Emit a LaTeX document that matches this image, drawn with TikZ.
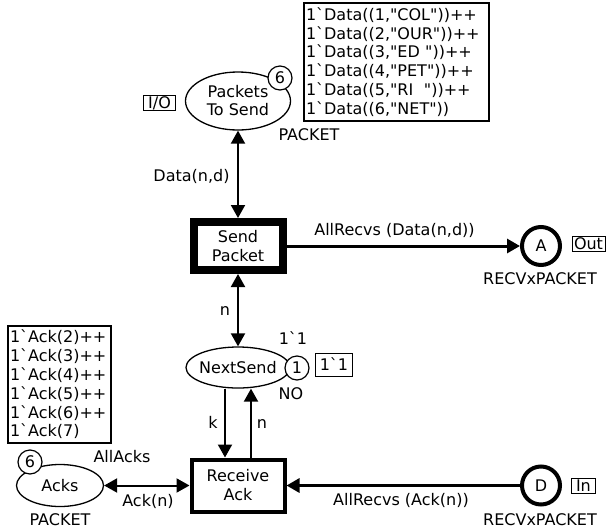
\documentclass[tikz,border=0pt]{standalone}
\usepackage{fontspec}
\setmainfont{DejaVu Sans}[Ligatures=TeXOff]
\usetikzlibrary{arrows.meta,shapes.geometric}
\begin{document}
\begin{tikzpicture}[x=1pt,y=-1pt,
  font=\fontsize{16}{19}\selectfont,
  >={Triangle[length=13pt,width=14pt]},
  place/.style={ellipse, draw, line width=1.3pt, outer sep=0.65pt, inner sep=0pt},
  token/.style={circle, draw, fill=white, line width=1.2pt, minimum size=24pt, inner sep=0pt},
  trans/.style={rectangle, draw, align=center, inner sep=0pt},
  port/.style={circle, draw, line width=4pt, outer sep=2pt, minimum size=38pt, inner sep=0pt},
  tag/.style={rectangle, draw, line width=1pt, inner xsep=2pt, inner ysep=0.8pt, text height=12pt, text depth=1.5pt},
  lbl/.style={inner sep=0pt, text height=12pt, text depth=0.4pt},
  mbox/.style={rectangle, draw, line width=1.2pt, align=left, inner xsep=2pt, inner ysep=0pt, font=\fontsize{16}{18.8}\selectfont},
  arcline/.style={line width=2pt},
  portline/.style={line width=3pt}]
\fill[white] (0,0) rectangle (606,531);
\useasboundingbox (0,0) rectangle (606,531);

% places
\node[place, minimum width=105pt, minimum height=58pt, align=center, font=\fontsize{16}{18}\selectfont] (pts) at (238,101) {Packets\\To Send};
\node[token] (ptstok) at (280,78) {6};
\node[tag, inner xsep=4.5pt] (io) at (159.5,103) {I/O};
\node[lbl] (ptstype) at (309,135) {PACKET};
\node[mbox, text width=181pt, minimum height=118pt] (ptsmark) at (396.5,62) {1`Data((1,"COL"))++\\1`Data((2,"OUR"))++\\1`Data((3,"ED\ "))++\\1`Data((4,"PET"))++\\1`Data((5,"RI\ \ "))++\\1`Data((6,"NET"))};

\node[place, inner xsep=-3pt, minimum width=104pt, minimum height=41pt] (ns) at (238,367.5) {NextSend};
\node[token] (nstok) at (297,368) {1};
\node[lbl] (nsinit) at (293,339) {1`1};
\node[lbl] (nstype) at (291,394) {NO};
\node[tag, inner xsep=4pt, inner ysep=5pt] (nsmark) at (334,365) {1`1};

\node[place, minimum width=87pt, minimum height=42pt] (acks) at (60,485.5) {Acks};
\node[token] (ackstok) at (30,462) {6};
\node[lbl] (acksinit) at (122,457) {AllAcks};
\node[lbl] (ackstype) at (60,520) {PACKET};
\node[mbox, text width=99pt, minimum height=117pt] (acksmark) at (59.5,384.5) {1`Ack(2)++\\1`Ack(3)++\\1`Ack(4)++\\1`Ack(5)++\\1`Ack(6)++\\1`Ack(7)};

\node[port] (pa) at (541,246) {A};
\node[tag, anchor=west] (out) at (571.5,244) {Out};
\node[lbl] (patype) at (540,279) {RECVxPACKET};

\node[port] (pd) at (541,485.5) {D};
\node[tag, anchor=west, inner xsep=4.5pt] (in) at (571,486) {In};
\node[lbl] (pdtype) at (540,520) {RECVxPACKET};

% transitions
\node[trans, line width=8pt, outer sep=4pt, minimum width=89pt, minimum height=48pt] (sp) at (238,246) {Send\\Packet};
\node[trans, line width=4pt, outer sep=2pt, minimum width=93pt, minimum height=52pt] (ra) at (238,485.5) {Receive\\Ack};

% arcs
\draw[arcline, <->] (pts) -- (sp);
\node[lbl] (l1) at (191.5,176) {Data(n,d)};
\draw[portline, ->] (sp) -- (pa);
\node[lbl] (l2) at (394.5,230) {AllRecvs (Data(n,d))};
\draw[arcline, <->] (sp) -- (ns);
\node[lbl] (l3) at (225,310) {n};
\draw[arcline, ->] ([xshift=-13pt]ns.south) -- ([xshift=-13pt]ra.north);
\node[lbl] (l4) at (213,423) {k};
\draw[arcline, ->] ([xshift=13pt]ra.north) -- ([xshift=13pt]ns.south);
\node[lbl] (l5) at (262,423) {n};
\draw[arcline, <->] (acks) -- (ra);
\node[lbl] (l6) at (148,501) {Ack(n)};
\draw[portline, ->] (pd) -- (ra);
\node[lbl] (l7) at (401,500) {AllRecvs (Ack(n))};
\end{tikzpicture}
\end{document}
